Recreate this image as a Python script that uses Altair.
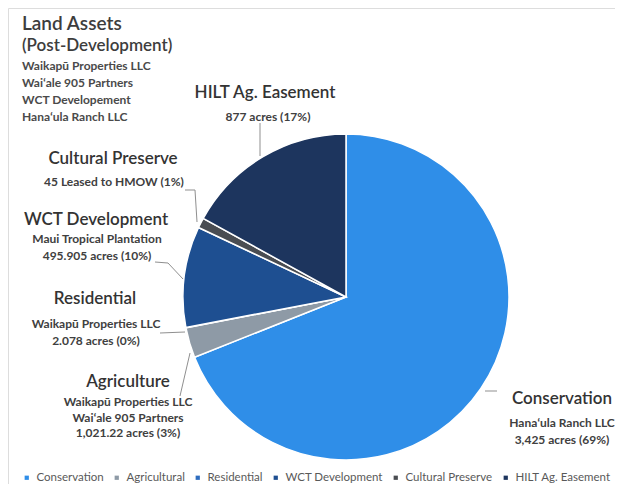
import altair as alt
import pandas as pd

# ---- data ----
categories = ["Conservation", "Agricultural", "Residential", "WCT Development",
              "Cultural Preserve", "HILT Ag. Easement"]
percent_values = [69, 3, 0.04, 10, 1, 17]
colors = ["#2F8EE8", "#8E9AA6", "#2E6DBF", "#1E4F91", "#4A4D52", "#1D355E"]

title_lines = ["Land Assets", "(Post-Development)"]
owner_lines = ["Waikapū Properties LLC", "Wai\u02bbale 905 Partners",
               "WCT Developement", "Hana\u02bbula Ranch LLC"]

label_heads = ["HILT Ag. Easement", "Cultural Preserve", "WCT Development",
               "Residential", "Agriculture", "Conservation"]
label_bodies = [
    ["877 acres (17%)"],
    ["45 Leased to HMOW (1%)"],
    ["Maui Tropical Plantation", "495.905 acres (10%)"],
    ["Waikapū Properties LLC", "2.078 acres (0%)"],
    ["Waikapū Properties LLC", "Wai\u02bbale 905 Partners", "1,021.22 acres (3%)"],
    ["Hana\u02bbula Ranch LLC", "3,425 acres (69%)"],
]

df = pd.DataFrame({"category": categories, "value": percent_values,
                   "idx": list(range(len(categories)))})

FONT = "Lato"
W, H = 607, 476
CX, CY, R = 338, 289, 163

pie = alt.Chart(df).mark_arc(radius=R, stroke="white", strokeWidth=1.5).encode(
    theta=alt.Theta("value:Q", stack=True),
    order=alt.Order("idx:O"),
    color=alt.Color(
        "category:N",
        scale=alt.Scale(domain=categories, range=colors),
        legend=alt.Legend(
            title=None, orient="none", direction="horizontal",
            legendX=13, legendY=464, symbolType="square", symbolSize=18,
            symbolStrokeWidth=0, labelFont=FONT, labelFontSize=11.5,
            labelColor="#595959", labelOffset=4, columnPadding=7,
            padding=0, columns=6, gridAlign="none",
        ),
    ),
    x=alt.value(CX),
    y=alt.value(CY),
)

base = alt.Chart(pd.DataFrame({"k": [0]}))


def text_layer(txt, x, y, size, weight="bold", align="center", color="#3a3a3a", lh=17):
    return base.mark_text(
        text=txt, font=FONT, fontSize=size, fontWeight=weight, align=align,
        baseline="middle", color=color, lineHeight=lh,
    ).encode(x=alt.value(x), y=alt.value(y))


def seg(x1, y1, x2, y2):
    return base.mark_rule(color="#8f8f8f", strokeWidth=1).encode(
        x=alt.value(x1), y=alt.value(y1), x2=alt.value(x2), y2=alt.value(y2))


layers = [pie]

# title block
layers.append(text_layer(title_lines[0], 14, 16, 19, weight=600, align="left", color="#3d3d3d"))
layers.append(text_layer(title_lines[1], 14, 38, 17, weight=600, align="left", color="#3d3d3d"))
layers.append(text_layer(owner_lines, 14, 58, 12, align="left", color="#4a4a4a"))

# slice labels: header position, body position, body line height
label_pos = [
    ((257, 85), (260, 109), 17),
    ((105, 151), (106, 174), 17),
    ((88, 212), (89, 231), 17),
    ((87, 291), (88, 316), 17),
    ((120, 374), (120, 394), 15.5),
    ((554, 391), (554, 415), 17),
]
for head, body, (hp, bp, lh) in zip(label_heads, label_bodies, label_pos):
    layers.append(text_layer(head, hp[0], hp[1], 17, weight=600, color="#333333"))
    layers.append(text_layer(body, bp[0], bp[1], 12, color="#404040", lh=lh))

# leader lines
for s in [
    (252, 115, 252, 148),
    (177, 182, 187, 182), (187, 182, 189, 214),
    (147, 254, 160, 255), (160, 255, 175, 271),
    (152, 325, 177, 324),
    (172, 388, 182, 345),
    (477, 383, 489, 383),
]:
    layers.append(seg(*s))

chart = alt.layer(*layers).properties(
    width=W, height=H, padding=0,
    autosize=alt.AutoSizeParams(type="none"),
).configure_view(stroke=None).configure(background="white")

chart.save("out.html", embed_options={"renderer": "svg", "actions": False})
